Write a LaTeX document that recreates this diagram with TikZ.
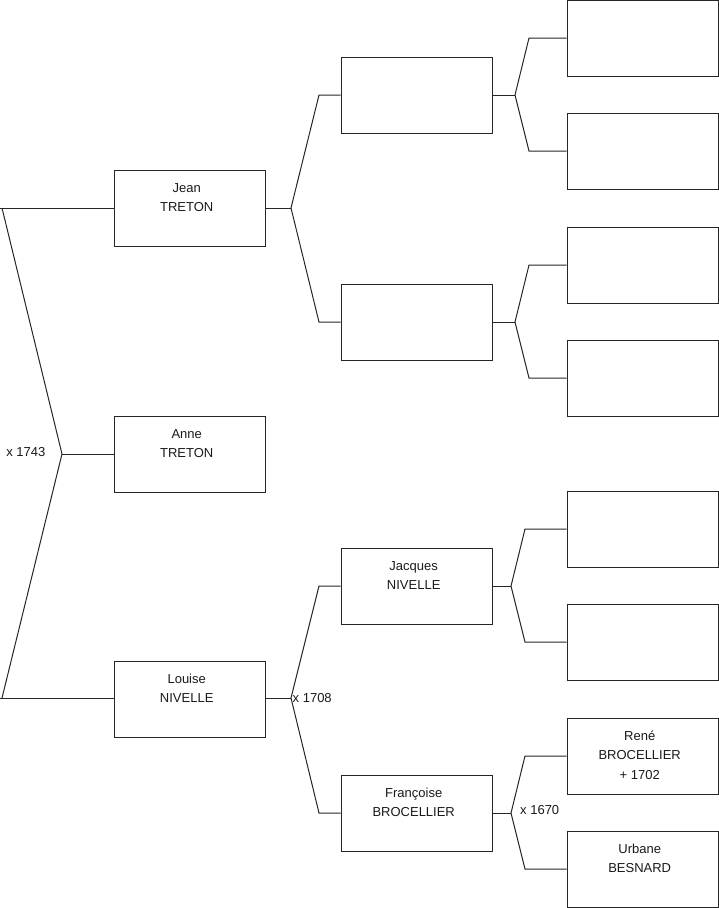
\documentclass[tikz,border=0pt]{standalone}
\usepackage{fontspec}
\setmainfont{Liberation Sans}
\begin{document}
\begin{tikzpicture}[x=1pt,y=-1pt,
  box/.style={draw=black!85, line width=1pt, minimum width=151pt, minimum height=76pt, inner sep=0pt},
  person/.style={box, label={[anchor=north, inner sep=0pt, yshift=-8.8pt, xshift=-2.8pt, align=center, text=black!90, font=\fontsize{13}{19.5}\selectfont]north:\strut #1}},
  wire/.style={draw=black!85, line width=1pt},
  note/.style={font=\fontsize{13}{15}\selectfont, inner sep=0pt, text=black!90}]
\useasboundingbox (0,0) rectangle (719,908);
% column 1
\node[person={Jean\\TRETON}] (jean) at (189.5,208) {};
\node[person={Anne\\TRETON}] (anne) at (189.5,454) {};
\node[person={Louise\\NIVELLE}] (louise) at (189.5,699) {};
% column 2
\node[box] (g1) at (416.5,95) {};
\node[box] (g2) at (416.5,322) {};
\node[person={Jacques\\NIVELLE}] (jacques) at (416.5,586) {};
\node[person={Françoise\\BROCELLIER}] (francoise) at (416.5,813) {};
% column 3
\node[box] (h1) at (642.5,38) {};
\node[box] (h2) at (642.5,151) {};
\node[box] (h3) at (642.5,265) {};
\node[box] (h4) at (642.5,378) {};
\node[box] (h5) at (642.5,529) {};
\node[box] (h6) at (642.5,642) {};
\node[person={René\\BROCELLIER\\+ 1702}] (rene) at (642.5,756) {};
\node[person={Urbane\\BESNARD}] (urbane) at (642.5,869) {};
% root fork
\coordinate (r) at (62,454);
\coordinate (ra) at (2,208);
\coordinate (rb) at (2,698);
\coordinate (la) at (0,208);
\coordinate (lb) at (0,698);
\draw[wire] (la) -- (jean.west);
\draw[wire] (lb) -- (louise.west |- lb);
\draw[wire] (ra) -- (r) -- (rb);
\draw[wire] (r) -- (anne.west);
\node[note, anchor=east] (m1) at (45.5,452.5) {x 1743};
% Jean fork
\coordinate (jf) at (291,208);
\coordinate (jt) at (319,95);
\coordinate (jb) at (319,322);
\draw[wire] (jean.east) -- (jf);
\draw[wire] (g1.west) -- (jt) -- (jf) -- (jb) -- (g2.west);
% Louise fork
\coordinate (lf) at (291,698);
\coordinate (lt) at (319,586);
\coordinate (lbb) at (319,813);
\draw[wire] (louise.east |- lf) -- (lf);
\draw[wire] (jacques.west) -- (lt) -- (lf) -- (lbb) -- (francoise.west);
\node[note, anchor=west] (m2) at (292.5,698) {x 1708};
% g1 fork
\coordinate (af) at (515,95);
\coordinate (at1) at (529,38);
\coordinate (ab1) at (529,151);
\draw[wire] (g1.east) -- (af);
\draw[wire] (h1.west) -- (at1) -- (af) -- (ab1) -- (h2.west);
% g2 fork
\coordinate (bf) at (515,322);
\coordinate (bt) at (529,265);
\coordinate (bb) at (529,378);
\draw[wire] (g2.east) -- (bf);
\draw[wire] (h3.west) -- (bt) -- (bf) -- (bb) -- (h4.west);
% Jacques fork
\coordinate (cf) at (511,586);
\coordinate (ct) at (525,529);
\coordinate (cb) at (525,642);
\draw[wire] (jacques.east) -- (cf);
\draw[wire] (h5.west) -- (ct) -- (cf) -- (cb) -- (h6.west);
% Francoise fork
\coordinate (df) at (511,813);
\coordinate (dt) at (525,756);
\coordinate (db) at (525,869);
\draw[wire] (francoise.east) -- (df);
\draw[wire] (rene.west) -- (dt) -- (df) -- (db) -- (urbane.west);
\node[note, anchor=west] (m3) at (520,810.5) {x 1670};
\end{tikzpicture}
\end{document}
